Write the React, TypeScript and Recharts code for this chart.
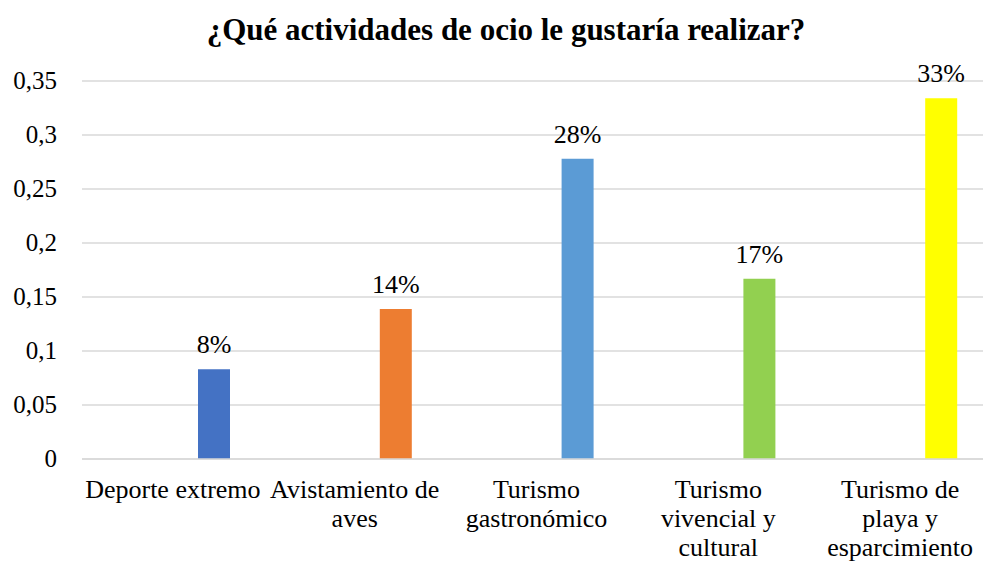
import { Bar, BarChart, CartesianGrid, Cell, LabelList, XAxis, YAxis } from 'recharts';

// categories use \n where the original label wraps
const categories = [
  'Deporte extremo',
  'Avistamiento de\naves',
  'Turismo\ngastronómico',
  'Turismo\nvivencial y\ncultural',
  'Turismo de\nplaya y\nesparcimiento',
];
const shares = [0.083, 0.139, 0.278, 0.167, 0.334];
const barColors = ['#4472C4', '#ED7D31', '#5B9BD5', '#92D050', '#FFFF00'];
const yTicks = [0, 0.05, 0.1, 0.15, 0.2, 0.25, 0.3, 0.35];

const FONT = 'Liberation Serif, Times New Roman, serif';
const labelStyle = { fontSize: 26, fill: '#000' };

// first slot is an empty series so the visible bar sits right of the category centre
const data = categories.map((name, i) => ({ name, blank: 0, value: shares[i] }));

function CategoryTick({ x, y, payload }: any) {
  const lines = String(payload.value).split('\n');
  return (
    <text x={x} y={y} textAnchor="middle" style={labelStyle}>
      {lines.map((line, i) => (
        <tspan key={i} x={x} dy={i === 0 ? 31 : 29}>
          {line}
        </tspan>
      ))}
    </text>
  );
}

function ValueTick({ x, y, payload }: any) {
  return (
    <text x={x} y={y} dy={8} textAnchor="end" style={{ fontSize: 25, fill: '#000' }}>
      {String(payload.value).replace('.', ',')}
    </text>
  );
}

export default function App() {
  return (
    <div
      style={{
        position: 'relative',
        width: 983,
        height: 563,
        overflow: 'hidden',
        background: '#fff',
        fontFamily: FONT,
      }}
    >
      <style>{'body{margin:0;overflow:hidden}'}</style>
      <div
        style={{
          position: 'absolute',
          top: 13,
          left: 0,
          width: 1012,
          textAlign: 'center',
          fontWeight: 'bold',
          fontSize: 31,
          lineHeight: '34px',
          color: '#000',
        }}
      >
        ¿Qué actividades de ocio le gustaría realizar?
      </div>
      <BarChart
        width={1000}
        height={563}
        data={data}
        margin={{ top: 81, right: 9, bottom: 0, left: 0 }}
        barSize={32}
        barGap={50}
      >
        <CartesianGrid vertical={false} stroke="#d9d9d9" strokeWidth={1.3} />
        <XAxis
          dataKey="name"
          height={104}
          interval={0}
          tickLine={false}
          axisLine={{ stroke: '#d9d9d9', strokeWidth: 1.3 }}
          tick={<CategoryTick />}
        />
        <YAxis
          width={82}
          domain={[0, 0.35]}
          ticks={yTicks}
          interval={0}
          axisLine={false}
          tickLine={false}
          tickMargin={19}
          tick={<ValueTick />}
        />
        <Bar dataKey="blank" fill="transparent" isAnimationActive={false} />
        <Bar dataKey="value" isAnimationActive={false}>
          {data.map((d, i) => (
            <Cell key={d.name} fill={barColors[i]} />
          ))}
          <LabelList
            dataKey="value"
            position="top"
            offset={16}
            formatter={(v: any) => `${Math.round(Number(v) * 100)}%`}
            style={labelStyle}
          />
        </Bar>
      </BarChart>
    </div>
  );
}
